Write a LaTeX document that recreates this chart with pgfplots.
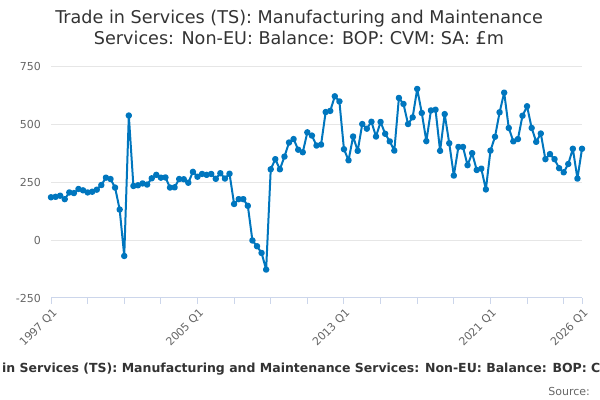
\documentclass[border=0pt]{standalone}
\usepackage{fontspec}
\setmainfont{DejaVu Sans}
\usepackage{pgfplots}
\pgfplotsset{compat=1.18}
\definecolor{linecol}{RGB}{0,118,190}
\definecolor{titlecol}{HTML}{333333}
\definecolor{labcol}{HTML}{666666}
\definecolor{gridcol}{HTML}{E6E6E6}
\definecolor{axiscol}{HTML}{CCD6EB}
\begin{document}
\begin{tikzpicture}
\path[use as bounding box] (0bp,0bp) rectangle (600bp,400bp);
\node[text=titlecol, font=\fontsize{17.6bp}{20bp}\selectfont, anchor=base, inner sep=0pt] at (299bp,376bp) {Trade in Services (TS): Manufacturing and Maintenance};
\node[text=titlecol, font=\fontsize{17.6bp}{20bp}\selectfont, anchor=base, inner sep=0pt] at (299bp,355bp) {Services: Non-EU: Balance: BOP: CVM: SA: £m};
\node[text=titlecol, font=\fontsize{12.5bp}{14bp}\selectfont\bfseries, anchor=base west, inner sep=0pt] at (2bp,28bp) {\llap{Trade }in Services (TS): Manufacturing and Maintenance Services: Non-EU: Balance: BOP: CVM: SA: £m};
\node[text=labcol, font=\fontsize{11bp}{13bp}\selectfont, anchor=base east, inner sep=0pt] at (590bp,5bp) {Source:};
\begin{axis}[
  at={(51bp,102bp)}, anchor=south west,
  scale only axis, width=531bp, height=231bp,
  xmin=0, xmax=116, ymin=-250, ymax=750,
  enlargelimits=false, clip=false,
  axis x line*=bottom, axis y line*=left,
  x axis line style={draw=axiscol, line width=1bp},
  y axis line style={draw=none},
  ytick={-250,0,250,500,750},
  yticklabels={-250,0,250,500,750},
  ytick style={draw=none},
  ymajorgrids, grid style={draw=gridcol, line width=1bp},
  xtick={0,32,64,96,116},
  xticklabels={1997 Q1,2005 Q1,2013 Q1,2021 Q1,2026 Q1},
  minor xtick={8,16,24,40,48,56,72,80,88,104,112},
  xtick style={draw=axiscol, line width=1bp},
  minor x tick style={draw=axiscol, line width=1bp},
  tick align=outside, major tick length=6bp, minor tick length=6bp,
  every tick label/.append style={text=labcol, font=\fontsize{11bp}{13bp}\selectfont},
  xticklabel style={rotate=45, anchor=east, inner sep=0pt, xshift=-2bp, yshift=-8bp},
  yticklabel style={anchor=east, inner sep=0pt, xshift=-4bp},
]
\addplot[color=linecol, line width=2bp, line join=round, mark=*, mark size=2.2bp, mark options={solid, fill=linecol, draw=none}] coordinates {
(0,186) (1,188) (2,193) (3,178) (4,207) (5,204) (6,222) (7,216) (8,207) (9,210)
(10,219) (11,239) (12,271) (13,265) (14,228) (15,133) (16,-68) (17,540) (18,235) (19,238)
(20,246) (21,241) (22,268) (23,283) (24,271) (25,272) (26,228) (27,229) (28,265) (29,264)
(30,249) (31,296) (32,275) (33,287) (34,283) (35,287) (36,266) (37,290) (38,267) (39,288)
(40,157) (41,178) (42,178) (43,149) (44,-1) (45,-26) (46,-55) (47,-127) (48,307) (49,351)
(50,307) (51,362) (52,423) (53,438) (54,392) (55,381) (56,467) (57,453) (58,410) (59,414)
(60,555) (61,560) (62,623) (63,601) (64,394) (65,346) (66,449) (67,387) (68,503) (69,483)
(70,513) (71,449) (72,512) (73,461) (74,428) (75,388) (76,616) (77,590) (78,503) (79,532)
(80,655) (81,551) (82,429) (83,562) (84,565) (85,387) (86,546) (87,420) (88,280) (89,404)
(90,404) (91,325) (92,377) (93,304) (94,310) (95,220) (96,388) (97,448) (98,554) (99,639)
(100,486) (101,428) (102,438) (103,539) (104,580) (105,486) (106,426) (107,462) (108,351) (109,373)
(110,351) (111,312) (112,294) (113,330) (114,396) (115,267) (116,396)
};
\end{axis}
\end{tikzpicture}
\end{document}
